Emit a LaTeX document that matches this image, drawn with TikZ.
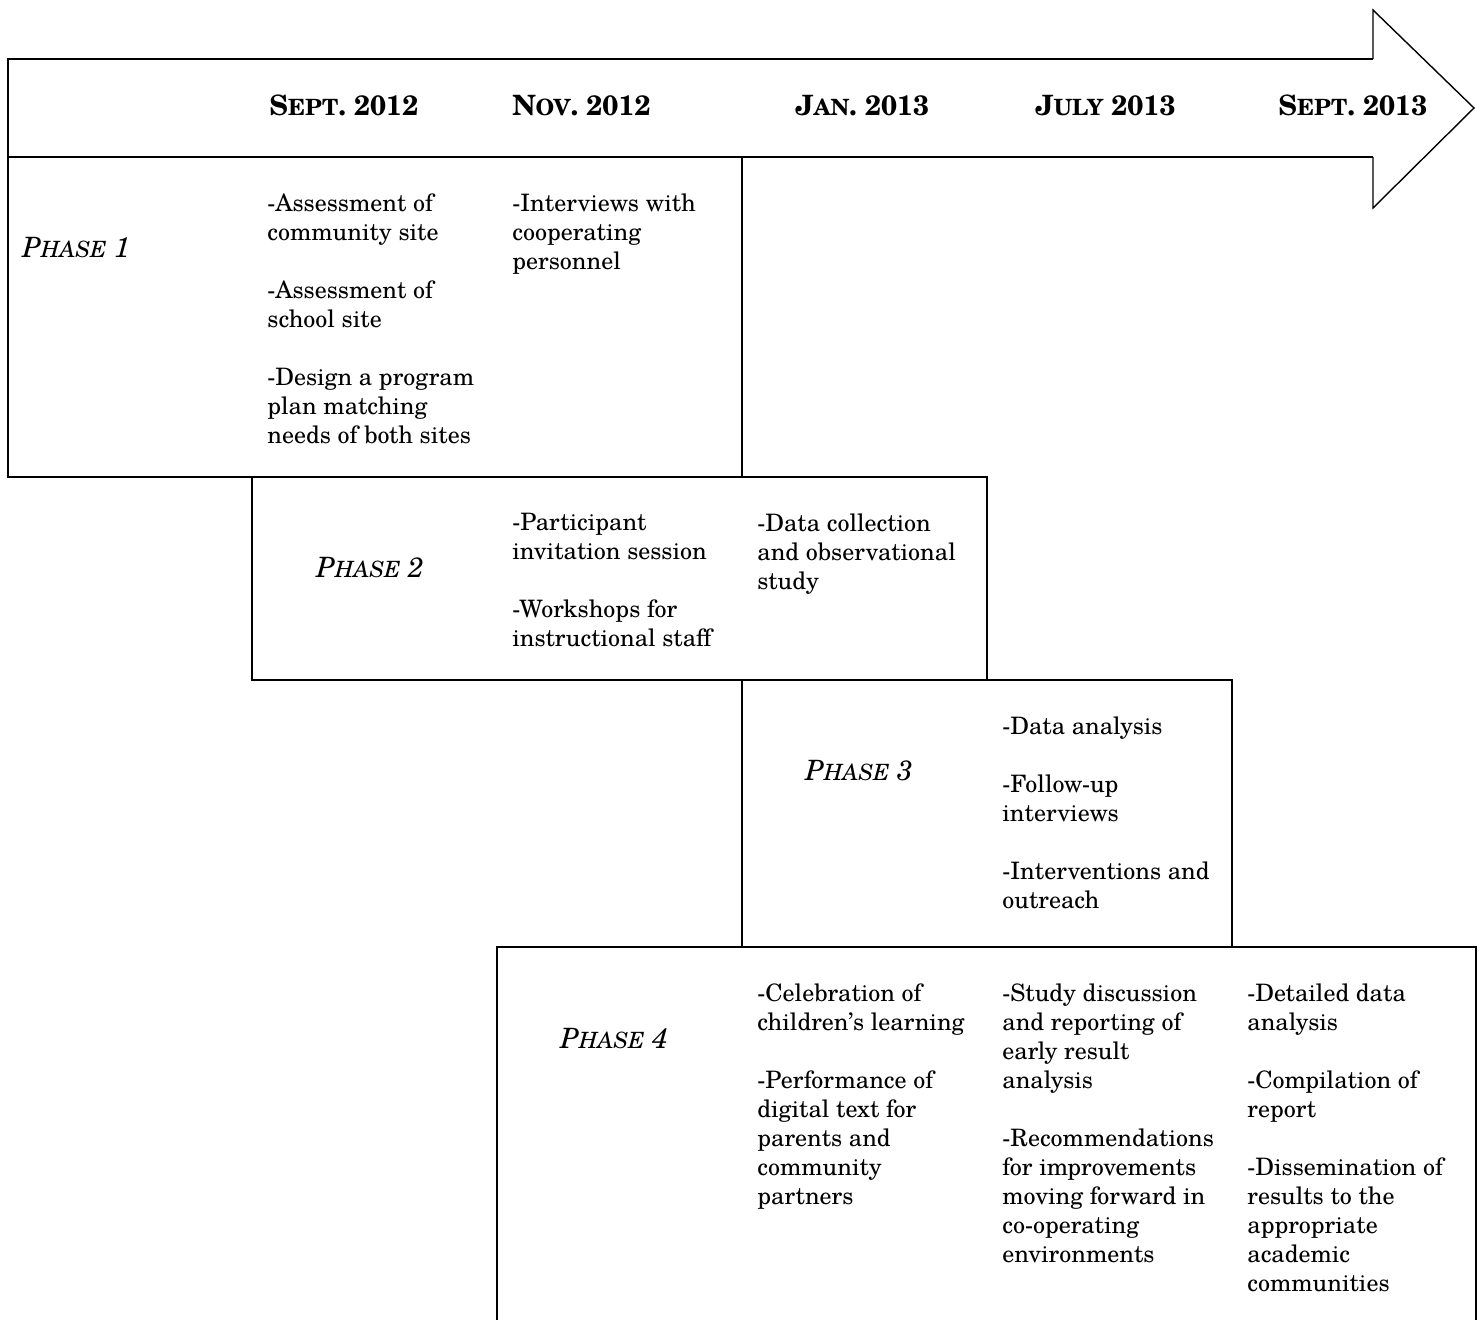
\documentclass[tikz,border=0pt]{standalone}
\usepackage{fontspec}
\setmainfont{TeX Gyre Schola}
\newcommand\scx[3]{#2{\fontsize{#1}{#1}\selectfont #3}}
\begin{document}
\begin{tikzpicture}[x=0.5pt,y=-0.5pt,
  frame/.style={draw=black, line width=1pt, line join=miter},
  headline/.style={draw=black, line width=0.7pt, line join=miter},
  item/.style={anchor=north west, inner sep=0pt, align=left, font=\fontsize{12}{14.5}\selectfont},
  phase/.style={anchor=base west, inner sep=0pt, font=\fontsize{14}{16}\selectfont\itshape},
  datelbl/.style={anchor=base west, inner sep=0pt, font=\fontsize{14}{16}\selectfont\bfseries}]
\useasboundingbox (0,0) rectangle (1483,1320);
\clip (0,0) rectangle (1483,1320);
\fill[white] (0,0) rectangle (1483,1320);
% arrow
\coordinate (ah1) at (1373,59);
\coordinate (ah2) at (1373,157);
\draw[frame] (ah1) -- (8,59) -- (8,157) -- (ah2);
\draw[headline] (ah1) -- (1373,10) -- (1474,108) -- (1373,208) -- (ah2);
% phase boxes
\draw[frame] (8,157) rectangle (742,477);
\draw[frame] (252,477) rectangle (987,680);
\draw[frame] (742,680) rectangle (1232,947);
\draw[frame] (497,947) rectangle (1476,1340);
% dates
\node[datelbl] (d1) at (269,116) {\scx{11.2}{S}{EPT}. 2012};
\node[datelbl] (d2) at (512,116) {\scx{11.2}{N}{OV}. 2012};
\node[datelbl] (d3) at (795,116) {\scx{11.2}{J}{AN}. 2013};
\node[datelbl] (d4) at (1035,116) {\scx{11.2}{J}{ULY} 2013};
\node[datelbl] (d5) at (1278,116) {\scx{11.2}{S}{EPT}. 2013};
% phase labels
\node[phase] (p1) at (22,258) {\scx{11.2}{P}{HASE} 1};
\node[phase] (p2) at (316,578) {\scx{11.2}{P}{HASE} 2};
\node[phase] (p3) at (805,780) {\scx{11.2}{P}{HASE} 3};
\node[phase] (p4) at (560,1048) {\scx{11.2}{P}{HASE} 4};
% phase 1 items
\node[item] (a1) at (267,193) {-Assessment of\\community site\\[14.5pt]-Assessment of\\school site\\[14.5pt]-Design a program\\plan matching\\needs of both sites};
\node[item] (a2) at (512,193) {-Interviews with\\cooperating\\personnel};
% phase 2 items
\node[item] (b1) at (512,513) {-Participant\\invitation session\\[14.5pt]-Workshops for\\instructional staff};
\node[item] (b2) at (757,513) {-Data collection\\and observational\\study};
% phase 3 items
\node[item] (c1) at (1002,716) {-Data analysis\\[14.5pt]-Follow-up\\interviews\\[14.5pt]-Interventions and\\outreach};
% phase 4 items
\node[item] (e1) at (757,983) {-Celebration of\\children’s learning\\[14.5pt]-Performance of\\digital text for\\parents and\\community\\partners};
\node[item] (e2) at (1002,983) {-Study discussion\\and reporting of\\early result\\analysis\\[14.5pt]-Recommendations\\for improvements\\moving forward in\\co-operating\\environments};
\node[item] (e3) at (1247,983) {-Detailed data\\analysis\\[14.5pt]-Compilation of\\report\\[14.5pt]-Dissemination of\\results to the\\appropriate\\academic\\communities};
\end{tikzpicture}
\end{document}
